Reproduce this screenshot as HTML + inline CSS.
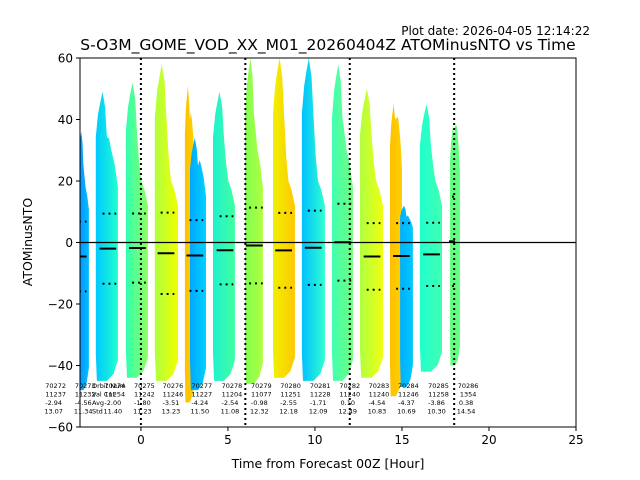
<!DOCTYPE html>
<html><head><meta charset="utf-8"><style>
body{margin:0;background:#fff;}
svg{display:block;font-family:"DejaVu Sans","Liberation Sans",sans-serif;}
</style></head><body>
<svg id="chart" width="640" height="480" viewBox="0 0 640 480">
<defs id="defs"></defs>
<text x="590" y="35" font-size="12" text-anchor="end">Plot date: 2026-04-05 12:14:22</text>
<text x="328" y="50" font-size="15.5" text-anchor="middle">S-O3M_GOME_VOD_XX_M01_20260404Z ATOMinusNTO vs Time</text>
<g id="plot"></g>
<text x="328" y="468" font-size="12.5" text-anchor="middle">Time from Forecast 00Z [Hour]</text>
<text transform="translate(32,242) rotate(-90)" font-size="12.5" text-anchor="middle">ATOMinusNTO</text>
</svg>
<script>
const colX0=[-3.62,-2.59,-0.86,0.80,2.53,2.82,4.14,5.98,7.59,9.25,10.98,12.59,14.31,14.89,16.03,17.76];
const colX1=[-2.99,-1.32,0.40,2.13,3.10,3.74,5.40,7.01,8.85,10.57,12.18,13.91,15.0,15.63,17.30,18.33];
const colTop=[36,49,52,58,51,34,49,60,60,60,58,50,45,12,45,38];
const colTopR=[18,30,20,20,40,25,20,30,20,20,30,20,40,8,20,38];
const colBottom=[-48,-45,-44,-45,-52,-48,-45,-46,-44,-45,-45,-44,-50,-47,-42,-40];
const colC0=["#0a8cff","#00c8ff","#30ffb0","#b0ff40","#ffc000","#00a8ff","#20f0d0","#80ff50","#f0f000","#00c0ff","#40ffb0","#b0ff40","#ffc000","#00b0ff","#20ffd0","#60ff80"];
const colC1=["#00bfff","#20ffd0","#90ff60","#f0ff00","#ffd000","#00d0ff","#40ffa0","#b0ff40","#ffc800","#30ffd0","#70ff80","#f0ff10","#ffd000","#00c8ff","#40ffb0","#60ff80"];
const orbits=["70272","70273","70274","70275","70276","70277","70278","70279","70280","70281","70282","70283","70284","70285","70286"];
const counts=["11237","11232","11254","11242","11246","11227","11204","11077","11251","11228","11240","11240","11246","11258","1354"];
const avgs=[-2.94,-4.56,-2.00,-1.80,-3.51,-4.24,-2.54,-0.98,-2.55,-1.71,0.10,-4.54,-4.37,-3.86,0.38];
const stds=[13.07,11.34,11.40,11.23,13.23,11.50,11.08,12.32,12.18,12.09,12.49,10.83,10.69,10.30,14.54];
const centers=[-5.3,-3.6,-1.9,-0.2,1.44,3.1,4.83,6.52,8.2,9.9,11.6,13.28,14.97,16.7,18.4];
const xTicks=[0,5,10,15,20,25];
const yTicks=[-60,-40,-20,0,20,40,60];
const vLines=[0,6,12,18];
const dataEnd=18.05;
const L=80,R=576,T=58,B=427,xMin=-3.5,xMax=25,yMin=-60,yMax=60;
const X=v=>L+(v-xMin)/(xMax-xMin)*(R-L);
const Y=v=>B-(v-yMin)/(yMax-yMin)*(B-T);
const NS="http://www.w3.org/2000/svg";
const svg=document.getElementById('chart'),plot=document.getElementById('plot'),defs=document.getElementById('defs');
function mk(t,a,p){const e=document.createElementNS(NS,t);for(const k in a)e.setAttribute(k,a[k]);(p||plot).appendChild(e);return e;}
const cp=mk('clipPath',{id:'clip'},defs);mk('rect',{x:L,y:T,width:R-L,height:B-T},cp);
const g=mk('g',{'clip-path':'url(#clip)'});


for(let i=0;i<colX0.length;i++){
  const gr=mk('linearGradient',{id:'g'+i,x1:0,x2:1,y1:0,y2:0},defs);
  mk('stop',{offset:0,'stop-color':colC0[i]},gr);mk('stop',{offset:1,'stop-color':colC1[i]},gr);
  const x0=colX0[i],x1=colX1[i],w=x1-x0,t=colTop[i],tr=colTopR[i],b=colBottom[i];
  const pts=[[x0+w*0.05,b],[x0,b*0.8],[x0,t*0.7],[x0+w*0.1,t*0.85],[x0+w*0.2,t*0.93],[x0+w*0.3,t],[x0+w*0.42,t*0.9],[x0+w*0.5,Math.max(tr,t*0.7)],[x0+w*0.6,tr+(t-tr)*0.2],[x0+w*0.7,tr],[x0+w*0.85,tr*0.85],[x1,tr*0.6],[x1,b*0.85],[x0+w*0.8,b*0.95],[x0+w*0.5,b]];
  const p=mk('polygon',{points:pts.map(q=>X(q[0]).toFixed(1)+','+Y(q[1]).toFixed(1)).join(' '),fill:'url(#g'+i+')'},g);
  
  
}
mk('line',{x1:L,x2:R,y1:Y(0),y2:Y(0),stroke:'#000','stroke-width':1.2},g);
vLines.forEach(v=>{const l=mk('line',{x1:X(v),x2:X(v),y1:T,y2:B,stroke:'#000','stroke-width':2,'stroke-dasharray':'2,3'},g);
  
  });
for(let i=0;i<orbits.length;i++){
  const c=centers[i],a=X(c-0.48),b=X(Math.min(c+0.48,dataEnd));
  const a2=Math.min(a,b-6);
  const m=mk('line',{x1:a2,x2:b,y1:Y(avgs[i]),y2:Y(avgs[i]),stroke:'#000','stroke-width':2},g);
  
  
  [1,-1].forEach(s=>{const d=mk('line',{x1:a2+3,x2:b,y1:Y(avgs[i]+s*stds[i]),y2:Y(avgs[i]+s*stds[i]),stroke:'#000','stroke-width':2,'stroke-dasharray':'2,4'},g);
    
    });
}
for(let i=0;i<orbits.length;i++){
  const x=X(centers[i]+0.4);
  const t=mk('text',{x:x,y:388,'font-size':6.5,'text-anchor':'middle'});
  
  
  [orbits[i],counts[i],avgs[i].toFixed(2),stds[i].toFixed(2)].forEach((s,k)=>{const ts=mk('tspan',{x:x-(k>=2?2:0),dy:k?8.5:0},t);ts.textContent=s;});
}
const lt=mk('text',{x:92,y:388,'font-size':6.5});


["Orbit Num","Val Cnt","Avg","Std"].forEach((s,k)=>{const ts=mk('tspan',{x:92,dy:k?8.5:0},lt);ts.textContent=s;});
mk('rect',{x:L,y:T,width:R-L,height:B-T,fill:'none',stroke:'#000','stroke-width':1});
xTicks.forEach(v=>{mk('line',{x1:X(v),x2:X(v),y1:B,y2:B+4,stroke:'#000'});
  const t=mk('text',{x:X(v),y:B+17,'font-size':12,'text-anchor':'middle'});t.textContent=v;
  
  });
yTicks.forEach(v=>{mk('line',{x1:L-4,x2:L,y1:Y(v),y2:Y(v),stroke:'#000'});
  const t=mk('text',{x:L-7,y:Y(v)+4.5,'font-size':12,'text-anchor':'end'});t.textContent=(v<0?'\u2212'+(-v):v);
  
  });
</script>
</body></html>
